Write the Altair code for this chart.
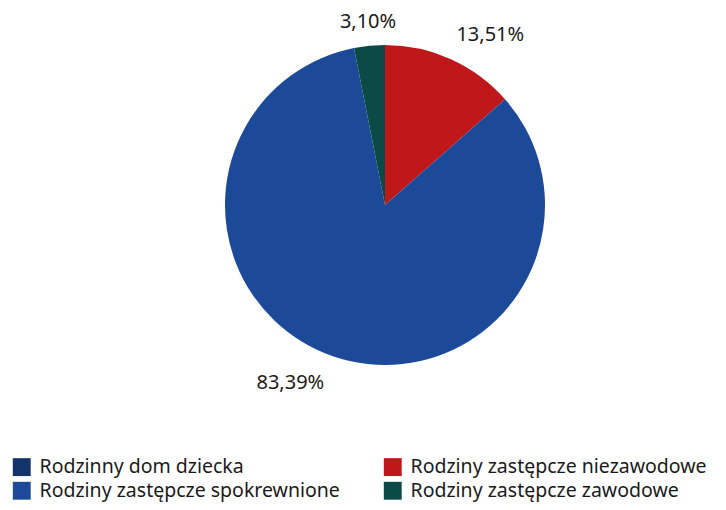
import altair as alt
import pandas as pd

categories = [
    "Rodzinny dom dziecka",
    "Rodziny zastępcze niezawodowe",
    "Rodziny zastępcze spokrewnione",
    "Rodziny zastępcze zawodowe",
]
values = [0.0, 13.51, 83.39, 3.10]
labels = ["", "13,51%", "83,39%", "3,10%"]
slice_order = [0, 1, 2, 3]
colors = ["#14336b", "#c0171b", "#1c4a98", "#0b4a47"]

df = pd.DataFrame({"cat": categories, "val": values, "lab": labels, "ord": slice_order})

CX, CY = 377, 197
FONT = "Noto Sans"

base = alt.Chart(df).encode(
    theta=alt.Theta("val:Q", stack=True),
    order=alt.Order("ord:Q"),
    color=alt.Color(
        "cat:N",
        scale=alt.Scale(domain=categories, range=colors),
        sort=categories,
        legend=alt.Legend(
            title=None,
            orient="none",
            legendX=4,
            legendY=449,
            columns=2,
            direction="horizontal",
            symbolType="square",
            symbolSize=320,
            symbolStrokeWidth=0,
            labelFont=FONT,
            labelFontSize=19.5,
            labelColor="#1a1a1a",
            labelLimit=400,
            columnPadding=43,
            rowPadding=3,
            labelOffset=8,
        ),
    ),
)

pie = base.mark_arc(outerRadius=160, stroke=None).encode(
    x=alt.value(CX), y=alt.value(CY)
)

offsets = {"13,51%": (25, 8), "83,39%": (-32, -7), "3,10%": (2, 11)}
texts = []
for lab, (dx, dy) in offsets.items():
    t = alt.Chart(df).transform_calculate(
        show=f"datum.lab == '{lab}' ? datum.lab : ''"
    ).mark_text(
        radius=195, font=FONT, fontSize=20, color="#1a1a1a", dx=dx, dy=dy
    ).encode(
        theta=alt.Theta("val:Q", stack=True),
        order=alt.Order("ord:Q"),
        text="show:N",
        x=alt.value(CX),
        y=alt.value(CY),
    )
    texts.append(t)

chart = alt.layer(pie, *texts).properties(
    width=710, height=494, padding=0, autosize=alt.AutoSizeParams(type="none")
).configure_view(stroke=None)

chart.save("out.html", embed_options={"renderer": "svg", "actions": False})
